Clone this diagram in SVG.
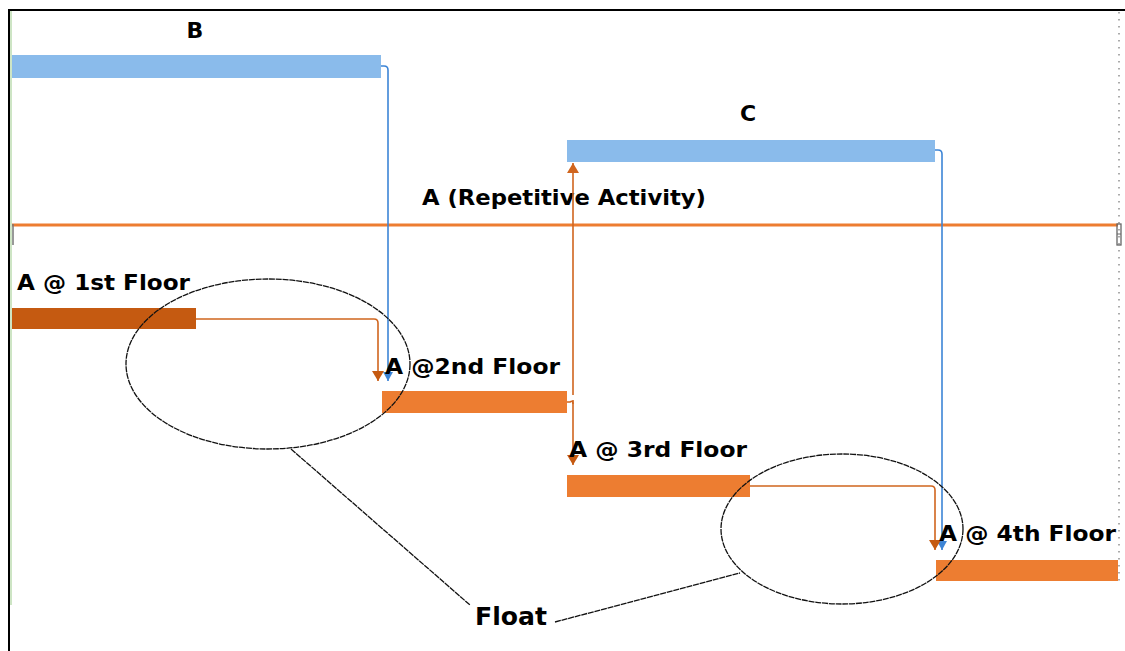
<svg xmlns="http://www.w3.org/2000/svg" width="1125" height="651" viewBox="0 0 1125 651">
  <style>
    .lbl { font-family: "DejaVu Sans", "Liberation Sans", sans-serif; font-weight: bold; font-size: 22px; fill: #000; }
    .float { font-family: "DejaVu Sans", "Liberation Sans", sans-serif; font-weight: bold; font-size: 25px; fill: #000; }
    .blue-bar { fill: #8ABBEB; }
    .dark-bar { fill: #C55A11; }
    .orange-bar { fill: #ED7D31; }
    .blue-link { fill: none; stroke: #3D85D6; stroke-width: 1.6; }
    .orange-link { fill: none; stroke: #D0651E; stroke-width: 1.6; }
    .ring { fill: none; stroke: #111; stroke-width: 1.3; stroke-dasharray: 6 0.8; }
    .leader { fill: none; stroke: #111; stroke-width: 1.3; stroke-dasharray: 6 0.8; }
  </style>
  <defs>
    <marker id="arrowBlue" viewBox="0 0 10 9" refX="5" refY="9" markerWidth="10" markerHeight="9" markerUnits="userSpaceOnUse" orient="0">
      <path d="M0,0 L10,0 L5,9 Z" fill="#3D85D6"/>
    </marker>
    <marker id="arrowOrange" viewBox="0 0 12 10" refX="6" refY="10" markerWidth="12" markerHeight="10" markerUnits="userSpaceOnUse" orient="0">
      <path d="M0,0 L12,0 L6,10 Z" fill="#C55A11"/>
    </marker>
    <marker id="arrowOrangeUp" viewBox="0 0 12 10" refX="6" refY="0" markerWidth="12" markerHeight="10" markerUnits="userSpaceOnUse" orient="0">
      <path d="M0,10 L12,10 L6,0 Z" fill="#D0651E"/>
    </marker>
  </defs>

  <rect width="1125" height="651" fill="#fff"/>

  <!-- frame -->
  <g id="frame">
    <line x1="9" y1="10" x2="1125" y2="10" stroke="#000" stroke-width="2"/>
    <line x1="9" y1="9" x2="9" y2="651" stroke="#000" stroke-width="2"/>
    <line x1="11" y1="11" x2="11" y2="605" stroke="#9CCB8A" stroke-width="1"/>
    <line x1="1119" y1="12" x2="1119" y2="582" stroke="#888" stroke-width="1.4" stroke-dasharray="1.4,5.6"/>
  </g>

  <!-- summary line for the repetitive activity -->
  <g id="summary">
    <line x1="12" y1="225" x2="1118" y2="225" stroke="#ED7D31" stroke-width="3"/>
    <line x1="13" y1="224" x2="13" y2="245" stroke="#777" stroke-width="1.5"/>
    <rect x="1117" y="224" width="4" height="21" fill="none" stroke="#666" stroke-width="1.3"/>
    <line x1="1117" y1="234" x2="1121" y2="234" stroke="#666" stroke-width="1"/>
    <text class="lbl" x="422" y="205" textLength="284" lengthAdjust="spacingAndGlyphs">A (Repetitive Activity)</text>
  </g>

  <!-- connectors -->
  <g id="connectors">
    <path class="blue-link" d="M381,66 H384 Q388,66 388,70 V381" marker-end="url(#arrowBlue)"/>
    <path class="blue-link" d="M935,150 H938 Q942,150 942,154 V550" marker-end="url(#arrowBlue)"/>
    <path class="orange-link" d="M196,319 H374 Q378,319 378,323 V381" marker-end="url(#arrowOrange)"/>
    <path class="orange-link" d="M567,402 H570 Q573,400 573,404" />
    <path class="orange-link" d="M573,395 V163" marker-end="url(#arrowOrangeUp)"/>
    <path class="orange-link" d="M573,400 V465" marker-end="url(#arrowOrange)"/>
    <path class="orange-link" d="M750,486 H931 Q935,486 935,490 V550" marker-end="url(#arrowOrange)"/>
  </g>

  <!-- activity bars -->
  <g id="node-B">
    <rect class="blue-bar" x="12" y="55" width="369" height="23"/>
    <text class="lbl" x="195" y="38" text-anchor="middle" font-size="23">B</text>
  </g>
  <g id="node-C">
    <rect class="blue-bar" x="567" y="140" width="368" height="22"/>
    <text class="lbl" x="748" y="121" text-anchor="middle" font-size="23">C</text>
  </g>
  <g id="node-A1">
    <rect class="dark-bar" x="12" y="308" width="184" height="21"/>
    <text class="lbl" x="17" y="290" textLength="173" lengthAdjust="spacingAndGlyphs">A @ 1st Floor</text>
  </g>
  <g id="node-A2">
    <rect class="orange-bar" x="382" y="391" width="185" height="22"/>
    <text class="lbl" x="385" y="374" textLength="175" lengthAdjust="spacingAndGlyphs">A @2nd Floor</text>
  </g>
  <g id="node-A3">
    <rect class="orange-bar" x="567" y="475" width="183" height="22"/>
    <text class="lbl" x="569" y="457" textLength="178" lengthAdjust="spacingAndGlyphs">A @ 3rd Floor</text>
  </g>
  <g id="node-A4">
    <rect class="orange-bar" x="936" y="560" width="182" height="21"/>
    <text class="lbl" x="939" y="541" textLength="177" lengthAdjust="spacingAndGlyphs">A @ 4th Floor</text>
  </g>

  <!-- float callouts -->
  <g id="float">
    <ellipse class="ring" cx="268" cy="364" rx="142" ry="85"/>
    <ellipse class="ring" cx="842" cy="529" rx="121" ry="75"/>
    <line class="leader" x1="291" y1="449" x2="470" y2="605"/>
    <line class="leader" x1="555" y1="622" x2="740" y2="573"/>
    <text class="float" x="475" y="625" textLength="72" lengthAdjust="spacingAndGlyphs">Float</text>
  </g>
</svg>
